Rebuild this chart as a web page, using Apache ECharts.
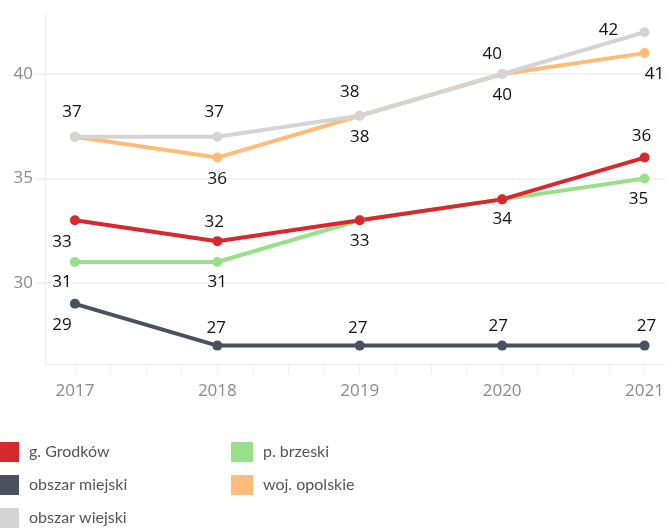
<!DOCTYPE html>
<html>
<head>
<meta charset="utf-8">
<script src="https://cdn.jsdelivr.net/npm/echarts@6/dist/echarts.min.js"></script>
<style>
html,body{margin:0;padding:0;background:#fff;}
#chart{width:667px;height:528px;}
</style>
</head>
<body>
<div id="chart"></div>
<script>
const years = [2017, 2018, 2019, 2020, 2021];
const grodkow = [33, 32, 33, 34, 36];
const brzeski = [31, 31, 33, 34, 35];
const miejski = [29, 27, 27, 27, 27];
const opolskie = [37, 36, 38, 40, 41];
const wiejski = [37, 37, 38, 40, 42];
const yTicks = [30, 35, 40];

const FONT = '"Open Sans", sans-serif';
const LFONT = 'Lato, sans-serif';

// label placement (style only): [dx, dy] from point centre, null = hidden
const labelOffsets = {
  'p. brzeski':    [[-13, 20], [0, 20], null, null, [-6, 21]],
  'g. Grodków':    [[-13, 22], [-3, -19], [0, 21], [0, 20], [-3, -21]],
  'woj. opolskie': [null, [0, 22], [0, 21], [0, 21], [10, 21]],
  'obszar wiejski':[[-3, -25], [-3, -25], [-10, -24], [-10, -20], [-36, -2]],
  'obszar miejski':[[-13, 21], [-1, -17], [-2, -17], [-4, -19], [2, -19]]
};

const seriesDefs = [
  {name: 'p. brzeski', values: brzeski, color: '#98df8a'},
  {name: 'g. Grodków', values: grodkow, color: '#d7282e'},
  {name: 'woj. opolskie', values: opolskie, color: '#ffbb78'},
  {name: 'obszar wiejski', values: wiejski, color: '#d4d4d4'},
  {name: 'obszar miejski', values: miejski, color: '#4a515e'}
];

const quarterTicks = [];
years.forEach((y, i) => {
  quarterTicks.push(y);
  if (i < years.length - 1) { quarterTicks.push(y + 0.25, y + 0.5, y + 0.75); }
});

const series = seriesDefs.map(def => ({
  name: def.name,
  type: 'line',
  symbol: 'circle',
  symbolSize: 10,
  lineStyle: {width: 4, color: def.color},
  itemStyle: {color: def.color},
  emphasis: {disabled: true},
  animation: false,
  data: def.values.map((v, i) => {
    const off = labelOffsets[def.name][i];
    return {
      value: [years[i], v],
      label: off ? {
        show: true, position: 'inside', offset: off,
        align: 'center', verticalAlign: 'middle',
        color: '#111', fontSize: 17, fontFamily: FONT
      } : {show: false}
    };
  })
}));

const legendCommon = {
  orient: 'vertical', top: 442, icon: 'rect', padding: 0,
  itemWidth: 22, itemHeight: 20, itemGap: 13, selectedMode: false,
  textStyle: {color: '#555', fontSize: 16, fontFamily: LFONT, padding: [0, 0, 0, 5]}
};

const chart = echarts.init(document.getElementById('chart'), null, {renderer: 'canvas'});
chart.setOption({
  backgroundColor: '#fff',
  animation: false,
  grid: {left: 45, right: 0, top: 13, bottom: 164, containLabel: false},
  xAxis: {
    type: 'value', min: 2016.79, max: 2021.147,
    axisLine: {show: true, lineStyle: {color: '#eeeeee', width: 1}},
    axisTick: {show: true, customValues: quarterTicks, length: 10, lineStyle: {color: '#eeeeee'}},
    axisLabel: {customValues: years, color: '#8a8a8a', fontSize: 17, fontFamily: FONT, margin: 19,
      formatter: v => String(v)},
    splitLine: {show: false}
  },
  yAxis: {
    type: 'value', min: 26.12, max: 42.92,
    axisLine: {show: true, lineStyle: {color: '#eeeeee', width: 1}},
    axisTick: {show: true, customValues: yTicks, length: 10, lineStyle: {color: '#eeeeee', width: 1.5}},
    axisLabel: {customValues: yTicks, color: '#8a8a8a', fontSize: 17, fontFamily: FONT, margin: 12},
    splitLine: {show: true, customValues: yTicks, lineStyle: {color: '#eeeeee', width: 1.5}}
  },
  legend: [
    Object.assign({data: ['g. Grodków', 'obszar miejski', 'obszar wiejski'], left: -3}, legendCommon),
    Object.assign({data: ['p. brzeski', 'woj. opolskie'], left: 231}, legendCommon)
  ],
  series: series
});
</script>
</body>
</html>
